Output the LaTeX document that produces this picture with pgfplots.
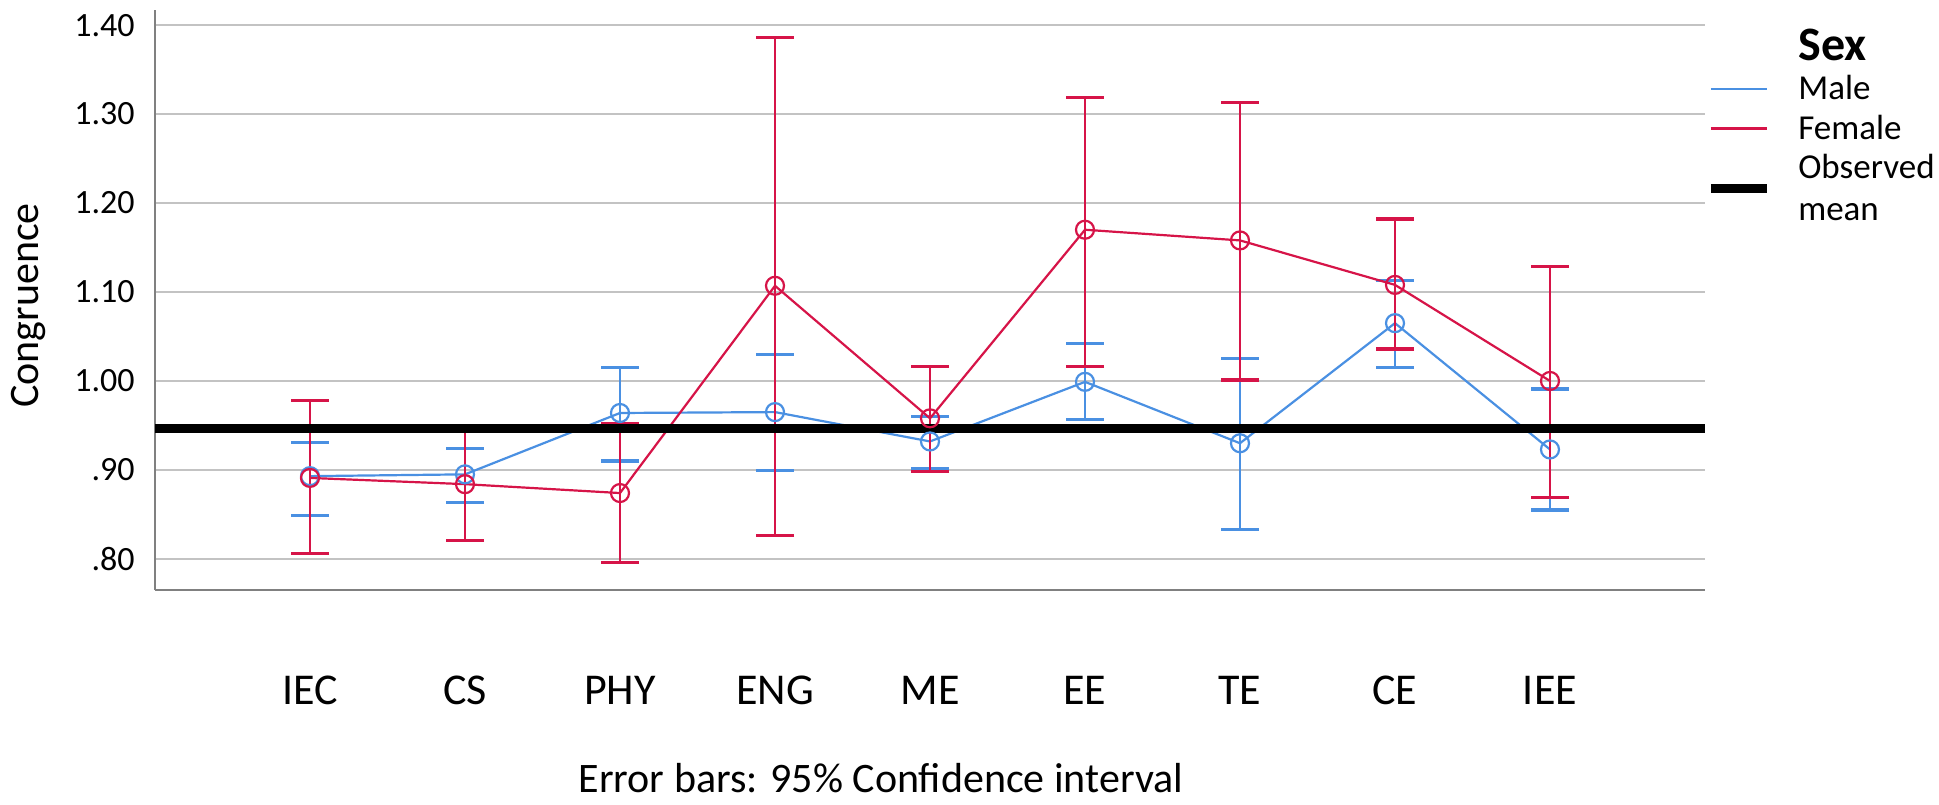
\documentclass[border=0pt]{standalone}
\usepackage{fontspec}
\setmainfont{Carlito}
\usepackage{pgfplots}
\pgfplotsset{compat=1.18}
\usepackage{pgfplotstable}
\definecolor{malec}{RGB}{74,144,226}
\definecolor{femalec}{RGB}{214,20,72}
\definecolor{gridc}{RGB}{195,195,195}
\definecolor{axisc}{RGB}{128,128,128}

\pgfplotstableread{
x y lo hi
0 0.893 0.849 0.931
1 0.895 0.863 0.924
2 0.964 0.910 1.015
3 0.965 0.899 1.030
4 0.932 0.902 0.960
5 0.999 0.957 1.042
6 0.930 0.833 1.025
7 1.065 1.015 1.113
8 0.923 0.855 0.991
}\maletab

\pgfplotstableread{
x y lo hi
0 0.891 0.806 0.978
1 0.884 0.821 0.944
2 0.874 0.796 0.952
3 1.107 0.826 1.386
4 0.958 0.898 1.016
5 1.170 1.016 1.319
6 1.158 1.001 1.313
7 1.108 1.036 1.182
8 1.000 0.869 1.129
}\femaletab

\pgfplotstableread{
x y
-1 0.946
9 0.946
}\meantab

\begin{document}
\begin{tikzpicture}
\path[use as bounding box] (0,0) rectangle (969.5pt,-402pt);
\begin{axis}[
  at={(77.5pt,-295pt)}, anchor=south west,
  width=775pt, height=290pt, scale only axis,
  xmin=-1, xmax=9, ymin=0.765, ymax=1.417,
  axis x line=bottom, axis y line=left,
  axis line style={axisc, line width=1.3pt, -},
  every outer x axis line/.append style={-},
  every outer y axis line/.append style={-},
  every inner x axis line/.append style={-},
  every inner y axis line/.append style={-},
  xtick={0,1,2,3,4,5,6,7,8},
  xticklabels={IEC,CS,PHY,ENG,ME,EE,TE,CE,IEE},
  ytick={0.8,0.9,1.0,1.1,1.2,1.3,1.4},
  yticklabels={.80,.90,1.00,1.10,1.20,1.30,1.40},
  /pgf/number format/assume math mode=true,
  major tick length=0pt,
  ymajorgrids, grid style={gridc, line width=1.2pt},
  xticklabel style={font=\fontsize{22}{26}\selectfont, anchor=center, inner sep=0pt, yshift=-50pt},
  yticklabel style={font=\fontsize{17}{20}\selectfont, anchor=east, inner sep=0pt, xshift=-10pt},
  legend image code/.code={\draw[#1] (0pt,0pt) -- (28pt,0pt);},
  legend style={draw=none, fill=none, at={(1.0006,0.968)}, anchor=north west,
    inner sep=0pt, column sep=13.5pt, row sep=6pt,
    font=\fontsize{17.5}{21}\selectfont,
    nodes={inner sep=0pt}, cells={anchor=west, align=left}},
]
\addlegendimage{empty legend}
\addlegendentry{\fontsize{24}{28}\selectfont\textbf{Sex}\rule[-6pt]{0pt}{1pt}}

\addplot[malec, line width=1.1pt, mark=o, mark size=4.5pt,
  mark options={solid, line width=1.1pt},
  error bars/y dir=both, error bars/y explicit,
  error bars/error bar style={malec, line width=1.1pt},
  error bars/error mark options={rotate=90, malec, line width=1.6pt, mark size=9.5pt}]
  table[x=x, y=y, y error plus expr=\thisrow{hi}-\thisrow{y}, y error minus expr=\thisrow{y}-\thisrow{lo}] {\maletab};
\addlegendentry{Male}

\addplot[femalec, line width=1.1pt, mark=o, mark size=4.5pt,
  mark options={solid, line width=1.1pt},
  error bars/y dir=both, error bars/y explicit,
  error bars/error bar style={femalec, line width=1.1pt},
  error bars/error mark options={rotate=90, femalec, line width=1.6pt, mark size=9.5pt}]
  table[x=x, y=y, y error plus expr=\thisrow{hi}-\thisrow{y}, y error minus expr=\thisrow{y}-\thisrow{lo}] {\femaletab};
\addlegendentry{Female}

\addplot[black, line width=4.5pt, no marks] table[x=x, y=y] {\meantab};
\addlegendentry{Observed\\mean}
\end{axis}
\node[rotate=90, font=\fontsize{21}{25}\selectfont] at (14pt,-152.75pt) {Congruence};
\node[font=\fontsize{21}{25}\selectfont] at (440.5pt,-389pt) {Error bars: 95\% Confidence interval};
\end{tikzpicture}
\end{document}
